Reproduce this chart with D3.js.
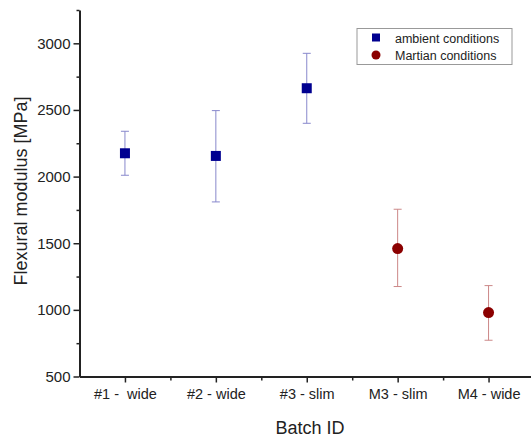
<!DOCTYPE html>
<html>
<head>
<meta charset="utf-8">
<script src="https://cdn.jsdelivr.net/npm/d3@7"></script>
<style>
  body { margin: 0; background: #fff; }
  text { font-family: "Liberation Sans", Arial, sans-serif; fill: #222; }
</style>
</head>
<body>
<div id="chart"></div>
<script>
// data
var batches = ["#1 -  wide", "#2 - wide", "#3 - slim", "M3 - slim", "M4 - wide"];
var ambientMean = [2175, 2155, 2663];
var ambientLow = [2010, 1810, 2400];
var ambientHigh = [2340, 2495, 2925];
var martianMean = [1460, 980];
var martianLow = [1175, 772];
var martianHigh = [1755, 1182];
var yTicks = [500, 1000, 1500, 2000, 2500, 3000];

var width = 531, height = 437;
var margin = { top: 10, right: 0, bottom: 60, left: 79.5 };

var svg = d3.select("#chart").append("svg")
    .attr("width", width)
    .attr("height", height);

// set the ranges
var x = d3.scaleLinear().domain([0.5, 5.5]).range([margin.left, 534]);
var y = d3.scaleLinear().domain([500, 3250]).range([376.5, margin.top]);

// build point lists
var ambient = ambientMean.map(function (v, i) {
    return { i: i + 1, v: v, lo: ambientLow[i], hi: ambientHigh[i] };
});
var martian = martianMean.map(function (v, i) {
    return { i: i + 4, v: v, lo: martianLow[i], hi: martianHigh[i] };
});

// error bars
function errorBars(data, color) {
    var g = svg.append("g").attr("stroke", color).attr("stroke-width", 1);
    g.selectAll("line.v").data(data).enter().append("line")
        .attr("x1", function (d) { return x(d.i); })
        .attr("x2", function (d) { return x(d.i); })
        .attr("y1", function (d) { return y(d.lo); })
        .attr("y2", function (d) { return y(d.hi); });
    ["lo", "hi"].forEach(function (k) {
        g.selectAll("line." + k).data(data).enter().append("line")
            .attr("x1", function (d) { return x(d.i) - 4; })
            .attr("x2", function (d) { return x(d.i) + 4; })
            .attr("y1", function (d) { return y(d[k]); })
            .attr("y2", function (d) { return y(d[k]); });
    });
}
errorBars(ambient, "#8888cc");
errorBars(martian, "#cc8888");

// markers
svg.selectAll("rect.amb").data(ambient).enter().append("rect")
    .attr("x", function (d) { return x(d.i) - 5; })
    .attr("y", function (d) { return y(d.v) - 5; })
    .attr("width", 10).attr("height", 10)
    .attr("fill", "#000090");

svg.selectAll("circle.mar").data(martian).enter().append("circle")
    .attr("cx", function (d) { return x(d.i); })
    .attr("cy", function (d) { return y(d.v); })
    .attr("r", 5.5)
    .attr("fill", "#8b0000");

// Y axis: minor ticks then major ticks
var yMinor = d3.range(750, 3251, 500);
svg.append("g")
    .attr("transform", "translate(" + margin.left + ",0)")
    .call(d3.axisLeft(y).tickValues(yMinor).tickSize(3).tickFormat(""))
    .call(function (g) { g.select(".domain").remove(); })
    .selectAll("line").attr("stroke", "#222").attr("stroke-width", 1.5);

var yAxis = svg.append("g")
    .attr("transform", "translate(" + margin.left + ",0)")
    .call(d3.axisLeft(y).tickValues(yTicks).tickSize(6).tickPadding(3).tickSizeOuter(0)
        .tickFormat(d3.format("d")));
yAxis.select(".domain").attr("stroke", "#222").attr("stroke-width", 2);
yAxis.selectAll("line").attr("stroke", "#222").attr("stroke-width", 1.5);
yAxis.selectAll("text").style("font-size", "15px").style("fill", "#222")
    .style("font-family", "'Liberation Sans', Arial, sans-serif");

// X axis
var xMinor = d3.range(1.5, 5.6, 1);
svg.append("g")
    .attr("transform", "translate(0," + y(500) + ")")
    .call(d3.axisBottom(x).tickValues(xMinor).tickSize(4).tickFormat(""))
    .call(function (g) { g.select(".domain").remove(); })
    .selectAll("line").attr("stroke", "#222").attr("stroke-width", 1.5);

var xAxis = svg.append("g")
    .attr("transform", "translate(0," + y(500) + ")")
    .call(d3.axisBottom(x).tickValues([1, 2, 3, 4, 5]).tickSize(6).tickPadding(6).tickSizeOuter(0)
        .tickFormat(function (d) { return batches[d - 1]; }));
xAxis.select(".domain").attr("stroke", "#222").attr("stroke-width", 2);
xAxis.selectAll("line").attr("stroke", "#222").attr("stroke-width", 1.5);
xAxis.selectAll("text").style("font-size", "14.5px").style("fill", "#222")
    .style("font-family", "'Liberation Sans', Arial, sans-serif")
    .style("white-space", "pre");

// axis titles
svg.append("text")
    .attr("x", 310).attr("y", 434)
    .attr("text-anchor", "middle")
    .style("font-size", "18px")
    .text("Batch ID");

svg.append("text")
    .attr("transform", "translate(27,191) rotate(-90)")
    .attr("text-anchor", "middle")
    .style("font-size", "18px")
    .text("Flexural modulus [MPa]");

// legend
var lg = svg.append("g").attr("transform", "translate(357,28.5)");
lg.append("rect").attr("width", 155).attr("height", 36)
    .attr("fill", "#fff").attr("stroke", "#999").attr("stroke-width", 1);
lg.append("rect").attr("x", 15).attr("y", 5).attr("width", 8).attr("height", 8).attr("fill", "#000090");
lg.append("circle").attr("cx", 19).attr("cy", 26.5).attr("r", 4.5).attr("fill", "#8b0000");
lg.append("text").attr("x", 38).attr("y", 14).style("font-size", "12.5px").text("ambient conditions");
lg.append("text").attr("x", 38).attr("y", 31).style("font-size", "12.5px").text("Martian conditions");
</script>
</body>
</html>
